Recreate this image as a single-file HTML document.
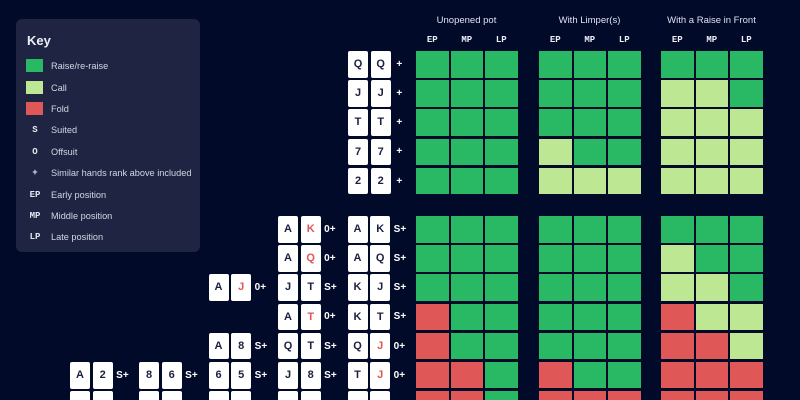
<!DOCTYPE html>
<html><head><meta charset="utf-8"><style>
*{margin:0;padding:0;box-sizing:border-box}
html{width:800px;height:400px;overflow:hidden}
body{width:800px;height:400px;background:#020a2a;position:relative;overflow:hidden;font-family:"Liberation Sans",sans-serif}
.key{position:absolute;left:16px;top:19px;width:184px;height:233px;background:#1e2441;border-radius:6px}
.kt{position:absolute;left:11px;top:14px;font-size:13px;font-weight:bold;color:#eef0f6}
.kr{position:absolute;left:0;height:14px;width:184px}
.kr .sw{position:absolute;left:10px;top:0;width:17px;height:13px}
.kr .sy{position:absolute;left:6px;width:26px;text-align:center;top:0;line-height:14px;font-family:"Liberation Mono",monospace;font-weight:bold;font-size:9px;color:#e6e8f0}
.kr .tx{position:absolute;left:35px;top:0;line-height:14px;font-size:9.2px;color:#d3d7e3;white-space:nowrap}
.g{position:absolute;display:grid;grid-template-columns:repeat(3,32.5px);column-gap:2px;grid-auto-rows:26.5px;row-gap:2.7px}
.G{background:#29b863}.L{background:#bde793}.R{background:#df5757}
.hd{position:absolute;font-size:9.5px;color:#dfe2ee;text-align:center;width:160px;top:15px}
.ps{position:absolute;top:35px;width:32.5px;text-align:center;font-family:"Liberation Mono",monospace;font-weight:bold;font-size:9px;color:#eef0f6}
.h{position:absolute;display:flex;align-items:center;height:26.5px}
.c{width:20px;height:26.5px;background:#fff;border-radius:2px;margin-right:2.7px;text-align:center;line-height:26.5px;font-size:11px;font-weight:bold;color:#1b2140}
.c.r{color:#e05555}
.l{margin-left:0.8px;color:#fff;font-weight:bold;font-size:10px}
</style></head><body>

<div class="key">
<div class="kt">Key</div>
<div class="kr" style="top:40px"><div class="sw G"></div><div class="tx">Raise/re-raise</div></div>
<div class="kr" style="top:61.5px"><div class="sw L"></div><div class="tx">Call</div></div>
<div class="kr" style="top:82.5px"><div class="sw R"></div><div class="tx">Fold</div></div>
<div class="kr" style="top:104px"><div class="sy">S</div><div class="tx">Suited</div></div>
<div class="kr" style="top:125.5px"><div class="sy">O</div><div class="tx">Offsuit</div></div>
<div class="kr" style="top:147px"><div class="sy">+</div><div class="tx">Similar hands rank above included</div></div>
<div class="kr" style="top:168.5px"><div class="sy">EP</div><div class="tx">Early position</div></div>
<div class="kr" style="top:189.5px"><div class="sy">MP</div><div class="tx">Middle position</div></div>
<div class="kr" style="top:211px"><div class="sy">LP</div><div class="tx">Late position</div></div>
</div>

<div class="hd" style="left:386.5px">Unopened pot</div>
<div class="hd" style="left:509.5px">With Limper(s)</div>
<div class="hd" style="left:631.5px">With a Raise in Front</div>

<div class="ps" style="left:416px">EP</div><div class="ps" style="left:450.5px">MP</div><div class="ps" style="left:485px">LP</div>
<div class="ps" style="left:539px">EP</div><div class="ps" style="left:573.5px">MP</div><div class="ps" style="left:608px">LP</div>
<div class="ps" style="left:661px">EP</div><div class="ps" style="left:695.5px">MP</div><div class="ps" style="left:730px">LP</div>

<!-- top grids -->
<div class="g" style="left:416px;top:51px">
<div class="G"></div><div class="G"></div><div class="G"></div>
<div class="G"></div><div class="G"></div><div class="G"></div>
<div class="G"></div><div class="G"></div><div class="G"></div>
<div class="G"></div><div class="G"></div><div class="G"></div>
<div class="G"></div><div class="G"></div><div class="G"></div>
</div>
<div class="g" style="left:539px;top:51px">
<div class="G"></div><div class="G"></div><div class="G"></div>
<div class="G"></div><div class="G"></div><div class="G"></div>
<div class="G"></div><div class="G"></div><div class="G"></div>
<div class="L"></div><div class="G"></div><div class="G"></div>
<div class="L"></div><div class="L"></div><div class="L"></div>
</div>
<div class="g" style="left:661px;top:51px">
<div class="G"></div><div class="G"></div><div class="G"></div>
<div class="L"></div><div class="L"></div><div class="G"></div>
<div class="L"></div><div class="L"></div><div class="L"></div>
<div class="L"></div><div class="L"></div><div class="L"></div>
<div class="L"></div><div class="L"></div><div class="L"></div>
</div>

<!-- bottom grids -->
<div class="g" style="left:416px;top:216px">
<div class="G"></div><div class="G"></div><div class="G"></div>
<div class="G"></div><div class="G"></div><div class="G"></div>
<div class="G"></div><div class="G"></div><div class="G"></div>
<div class="R"></div><div class="G"></div><div class="G"></div>
<div class="R"></div><div class="G"></div><div class="G"></div>
<div class="R"></div><div class="R"></div><div class="G"></div>
<div class="R"></div><div class="R"></div><div class="G"></div>
</div>
<div class="g" style="left:539px;top:216px">
<div class="G"></div><div class="G"></div><div class="G"></div>
<div class="G"></div><div class="G"></div><div class="G"></div>
<div class="G"></div><div class="G"></div><div class="G"></div>
<div class="G"></div><div class="G"></div><div class="G"></div>
<div class="G"></div><div class="G"></div><div class="G"></div>
<div class="R"></div><div class="G"></div><div class="G"></div>
<div class="R"></div><div class="R"></div><div class="R"></div>
</div>
<div class="g" style="left:661px;top:216px">
<div class="G"></div><div class="G"></div><div class="G"></div>
<div class="L"></div><div class="G"></div><div class="G"></div>
<div class="L"></div><div class="L"></div><div class="G"></div>
<div class="R"></div><div class="L"></div><div class="L"></div>
<div class="R"></div><div class="R"></div><div class="L"></div>
<div class="R"></div><div class="R"></div><div class="R"></div>
<div class="R"></div><div class="R"></div><div class="R"></div>
</div>

<!-- top hands -->
<div class="h" style="left:348px;top:51px"><div class="c">Q</div><div class="c">Q</div><div class="l" style="margin-left:3px">+</div></div>
<div class="h" style="left:348px;top:80.2px"><div class="c">J</div><div class="c">J</div><div class="l" style="margin-left:3px">+</div></div>
<div class="h" style="left:348px;top:109.4px"><div class="c">T</div><div class="c">T</div><div class="l" style="margin-left:3px">+</div></div>
<div class="h" style="left:348px;top:138.6px"><div class="c">7</div><div class="c">7</div><div class="l" style="margin-left:3px">+</div></div>
<div class="h" style="left:348px;top:167.8px"><div class="c">2</div><div class="c">2</div><div class="l" style="margin-left:3px">+</div></div>

<!-- bottom hands -->
<div class="h" style="left:278px;top:216px"><div class="c">A</div><div class="c r">K</div><div class="l">0+</div></div>
<div class="h" style="left:347.5px;top:216px"><div class="c">A</div><div class="c">K</div><div class="l">S+</div></div>

<div class="h" style="left:278px;top:245.2px"><div class="c">A</div><div class="c r">Q</div><div class="l">0+</div></div>
<div class="h" style="left:347.5px;top:245.2px"><div class="c">A</div><div class="c">Q</div><div class="l">S+</div></div>

<div class="h" style="left:208.5px;top:274.4px"><div class="c">A</div><div class="c r">J</div><div class="l">0+</div></div>
<div class="h" style="left:278px;top:274.4px"><div class="c">J</div><div class="c">T</div><div class="l">S+</div></div>
<div class="h" style="left:347.5px;top:274.4px"><div class="c">K</div><div class="c">J</div><div class="l">S+</div></div>

<div class="h" style="left:278px;top:303.6px"><div class="c">A</div><div class="c r">T</div><div class="l">0+</div></div>
<div class="h" style="left:347.5px;top:303.6px"><div class="c">K</div><div class="c">T</div><div class="l">S+</div></div>

<div class="h" style="left:208.5px;top:332.8px"><div class="c">A</div><div class="c">8</div><div class="l">S+</div></div>
<div class="h" style="left:278px;top:332.8px"><div class="c">Q</div><div class="c">T</div><div class="l">S+</div></div>
<div class="h" style="left:347.5px;top:332.8px"><div class="c">Q</div><div class="c r">J</div><div class="l">0+</div></div>

<div class="h" style="left:70px;top:362px"><div class="c">A</div><div class="c">2</div><div class="l">S+</div></div>
<div class="h" style="left:139px;top:362px"><div class="c">8</div><div class="c">6</div><div class="l">S+</div></div>
<div class="h" style="left:208.5px;top:362px"><div class="c">6</div><div class="c">5</div><div class="l">S+</div></div>
<div class="h" style="left:278px;top:362px"><div class="c">J</div><div class="c">8</div><div class="l">S+</div></div>
<div class="h" style="left:347.5px;top:362px"><div class="c">T</div><div class="c r">J</div><div class="l">0+</div></div>

<div class="h" style="left:70px;top:391.2px"><div class="c"></div><div class="c"></div></div>
<div class="h" style="left:139px;top:391.2px"><div class="c"></div><div class="c"></div></div>
<div class="h" style="left:208.5px;top:391.2px"><div class="c"></div><div class="c"></div></div>
<div class="h" style="left:278px;top:391.2px"><div class="c"></div><div class="c"></div></div>
<div class="h" style="left:347.5px;top:391.2px"><div class="c"></div><div class="c"></div></div>

</body></html>
